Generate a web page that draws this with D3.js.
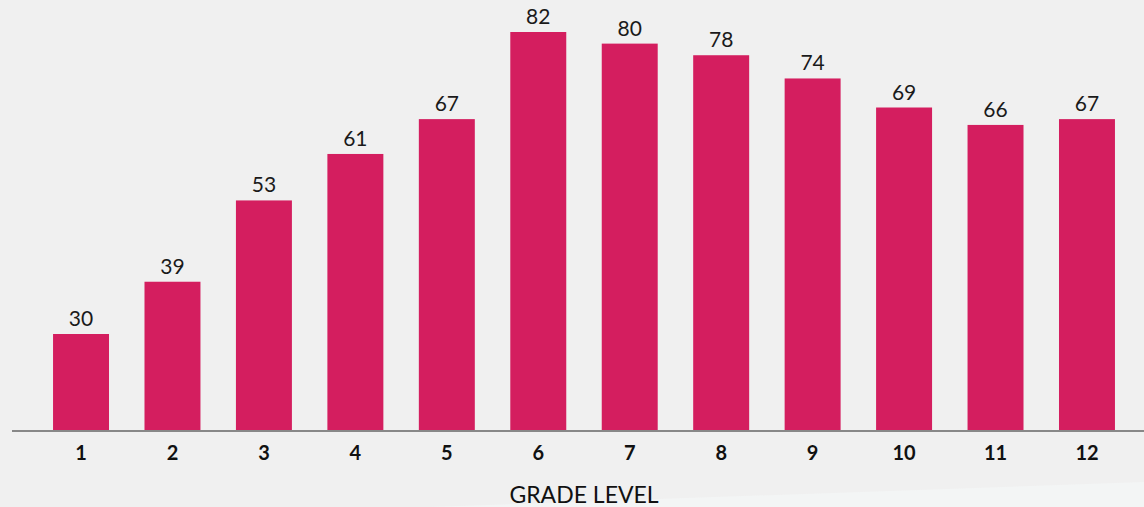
<!DOCTYPE html>
<html>
<head>
<meta charset="utf-8">
<script src="https://cdn.jsdelivr.net/npm/d3@7"></script>
<style>
  html, body { margin: 0; padding: 0; background: #f0f0f0; }
  svg { display: block; }
</style>
</head>
<body>
<div id="chart"></div>
<script>
// Chart data
var grades = ['1', '2', '3', '4', '5', '6', '7', '8', '9', '10', '11', '12'];
var values = [30, 39, 53, 61, 67, 82, 80, 78, 74, 69, 66, 67];
var axisTitle = 'GRADE LEVEL';

var width = 1144, height = 507;
var barColor = '#d41e5f';

var svg = d3.select('#chart').append('svg')
    .attr('width', width)
    .attr('height', height);

// background + faint lighter wedge at bottom right
svg.append('rect')
    .attr('width', width)
    .attr('height', height)
    .attr('fill', '#f0f0f0');
svg.append('path')
    .attr('d', 'M430,507 L1144,482 L1144,507 Z')
    .attr('fill', '#f3f5f5');

// scales
var x = d3.scaleBand()
    .domain(grades)
    .range([35.3, 1132.7])
    .paddingInner(0.388)
    .paddingOuter(0.194);
var y = d3.scaleLinear()
    .domain([13.3, 82])
    .range([431, 32]);

// bars
svg.append('g').selectAll('rect')
    .data(values)
    .join('rect')
    .attr('x', function(d, i) { return x(grades[i]); })
    .attr('y', function(d) { return y(d); })
    .attr('width', x.bandwidth())
    .attr('height', function(d) { return y.range()[0] - y(d); })
    .attr('fill', barColor);

// value labels
svg.append('g').selectAll('text')
    .data(values)
    .join('text')
    .attr('x', function(d, i) { return x(grades[i]) + x.bandwidth() / 2; })
    .attr('y', function(d) { return y(d) - 8; })
    .attr('text-anchor', 'middle')
    .style('font-family', 'Lato, sans-serif')
    .style('font-size', '21px')
    .style('fill', '#1a1a1a')
    .text(function(d) { return d; });

// x axis
var xAxis = svg.append('g')
    .attr('transform', 'translate(0,' + y.range()[0] + ')')
    .call(d3.axisBottom(x).tickSize(0).tickPadding(15));
xAxis.select('.domain')
    .attr('d', 'M12,0H' + width)
    .attr('stroke', '#888')
    .attr('stroke-width', 2);
xAxis.selectAll('text')
    .style('font-family', 'Lato, sans-serif')
    .style('font-size', '20px')
    .style('font-weight', 'bold')
    .style('fill', '#111');

// axis title
svg.append('text')
    .attr('x', (x.range()[0] + x.range()[1]) / 2)
    .attr('y', 503)
    .attr('text-anchor', 'middle')
    .style('font-family', 'Lato, sans-serif')
    .style('font-size', '23px')
    .style('fill', '#111')
    .text(axisTitle);
</script>
</body>
</html>
